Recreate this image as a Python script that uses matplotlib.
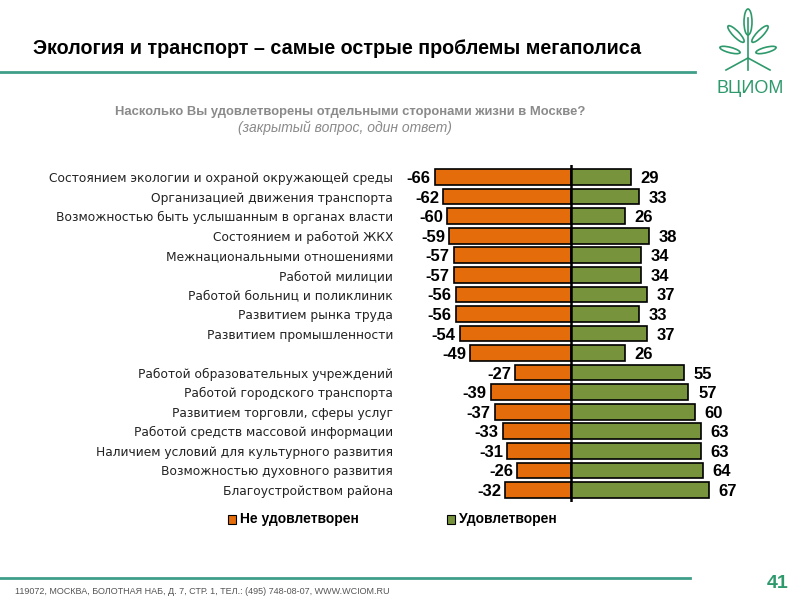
import matplotlib.pyplot as plt
from matplotlib.patches import Ellipse, Rectangle
from matplotlib.lines import Line2D

# data
categories = [
    "Состоянием экологии и охраной окружающей среды",
    "Организацией движения транспорта",
    "Возможностью быть услышанным в органах власти",
    "Состоянием и работой ЖКХ",
    "Межнациональными отношениями",
    "Работой милиции",
    "Работой больниц и поликлиник",
    "Развитием рынка труда",
    "Развитием промышленности",
    "",
    "Работой образовательных учреждений",
    "Работой городского транспорта",
    "Развитием торговли, сферы услуг",
    "Работой средств массовой информации",
    "Наличием условий для культурного развития",
    "Возможностью духовного развития",
    "Благоустройством района",
]
not_satisfied = [-66, -62, -60, -59, -57, -57, -56, -56, -54, -49,
                 -27, -39, -37, -33, -31, -26, -32]
satisfied = [29, 33, 26, 38, 34, 34, 37, 33, 37, 26,
             55, 57, 60, 63, 63, 64, 67]

ORANGE = "#E46C0A"
GREEN = "#77933C"
TEAL = "#3f9e8a"

plt.rcParams['font.family'] = ['Liberation Sans', 'DejaVu Sans']

W, H = 800, 600
fig = plt.figure(figsize=(8, 6), dpi=100)


def fx(x):
    return x / W


def fy(y):
    return 1 - y / H


# axes placed so that the zero line sits at x=571 px
x_min, x_max = -75, 75
ppu = 2.06
ax_left = 571 + x_min * ppu
ax_w = (x_max - x_min) * ppu
y_top, y_bot = 165.3, 501.7
ax = fig.add_axes([fx(ax_left), fy(y_bot), ax_w / W, (y_bot - y_top) / H])

ypos = list(range(len(categories)))
ax.barh(ypos, not_satisfied, height=0.8, color=ORANGE, edgecolor="black", linewidth=1.2)
ax.barh(ypos, satisfied, height=0.8, color=GREEN, edgecolor="black", linewidth=1.2)
ax.axvline(0, color="black", lw=1.8)

for y, v in zip(ypos, not_satisfied):
    ax.annotate(str(v), (v, y), xytext=(-3, 0), textcoords="offset points",
                ha="right", va="center_baseline", fontsize=12, fontweight="bold")
for y, v in zip(ypos, satisfied):
    ax.annotate(str(v), (v, y), xytext=(7, 0), textcoords="offset points",
                ha="left", va="center_baseline", fontsize=12, fontweight="bold")

ax.set_xlim(x_min, x_max)
ax.set_ylim(len(categories) - 0.4, -0.6)
ax.set_yticks(ypos)
ax.set_yticklabels(categories, fontsize=8.8, color="#222222", family="DejaVu Sans")
ax.tick_params(axis="y", length=0, pad=(ax_left - 393) * 0.72)
ax.set_xticks([])
for s in ax.spines.values():
    s.set_visible(False)

# title and rules
fig.text(fx(33), fy(48), "Экология и транспорт – самые острые проблемы мегаполиса",
         fontsize=14.2, fontweight="bold", va="center", ha="left")
fig.add_artist(Line2D([0, fx(695)], [fy(72), fy(72)], color=TEAL, lw=2))
fig.add_artist(Line2D([0, fx(690)], [fy(578), fy(578)], color=TEAL, lw=2))

fig.text(fx(350), fy(112), "Насколько Вы удовлетворены отдельными сторонами жизни в Москве?",
         fontsize=9.4, fontweight="bold", color="#8a8a8a", ha="center", va="center")
fig.text(fx(345), fy(128), "(закрытый вопрос, один ответ)",
         fontsize=10, style="italic", color="#8a8a8a", ha="center", va="center")

# legend
fig.add_artist(Rectangle((fx(228), fy(524)), 8 / W, 9 / H, facecolor=ORANGE,
                         edgecolor="black", lw=0.8))
fig.text(fx(240), fy(519), "Не удовлетворен", fontsize=10, fontweight="bold",
         ha="left", va="center")
fig.add_artist(Rectangle((fx(447), fy(524)), 8 / W, 9 / H, facecolor=GREEN,
                         edgecolor="black", lw=0.8))
fig.text(fx(459), fy(519), "Удовлетворен", fontsize=10, fontweight="bold",
         ha="left", va="center")

# footer
fig.text(fx(15), fy(591), "119072, МОСКВА, БОЛОТНАЯ НАБ, Д. 7, СТР. 1, ТЕЛ.: (495) 748-08-07, WWW.WCIOM.RU",
         fontsize=6.5, color="#555555", ha="left", va="center")
fig.text(fx(778), fy(583), "41", fontsize=14, fontweight="bold", color="#2e9a6c",
         ha="center", va="center")

# simple VCIOM logo
LOGO = "#2e9a6c"
lx = 748
fig.add_artist(Line2D([fx(lx), fx(lx)], [fy(18), fy(70)], color=LOGO, lw=1.2))
fig.add_artist(Line2D([fx(lx), fx(lx - 22)], [fy(58), fy(70)], color=LOGO, lw=1.2))
fig.add_artist(Line2D([fx(lx), fx(lx + 22)], [fy(58), fy(70)], color=LOGO, lw=1.2))
for cx, cy, w, h, ang in [(lx, 22, 8, 26, 0), (lx - 12, 34, 7, 20, 35), (lx + 12, 34, 7, 20, -35),
                          (lx - 18, 50, 7, 16, 70), (lx + 18, 50, 7, 16, -70)]:
    fig.add_artist(Ellipse((fx(cx), fy(cy)), w / W, h / H, angle=ang, fill=False,
                           edgecolor=LOGO, lw=1.2))
fig.text(fx(750), fy(88), "ВЦИОМ", fontsize=13, color=LOGO, ha="center", va="center")

fig.savefig("out.png", dpi=100)
